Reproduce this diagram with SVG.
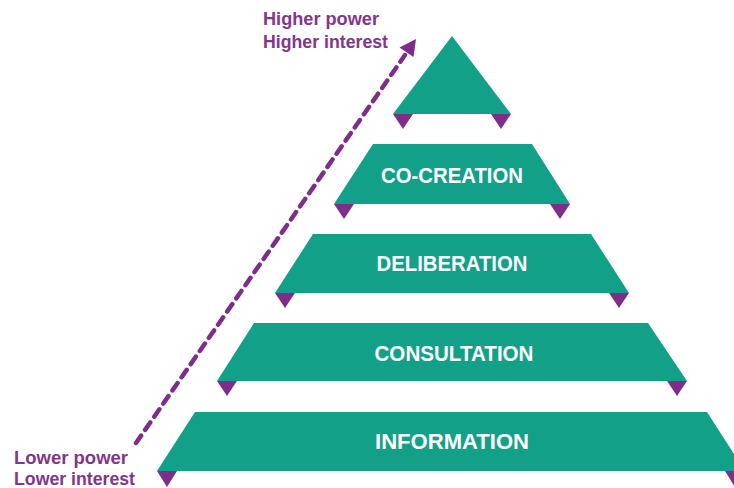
<svg xmlns="http://www.w3.org/2000/svg" width="734" height="488" viewBox="0 0 734 488">
  <style>
    .tier { fill: #12a088; }
    .fold { fill: #7e2d8b; }
    .label { font-family: "Liberation Sans", Arial, sans-serif; font-weight: bold; font-size: 22px; fill: #ffffff; text-anchor: middle; }
    .axis { font-family: "Liberation Sans", Arial, sans-serif; font-weight: bold; font-size: 17.5px; fill: #84358c; }
    .arrow { fill: none; stroke: #7e2d8b; stroke-width: 4.5; stroke-dasharray: 9 7; stroke-linecap: round; }
  </style>

  <rect width="734" height="488" fill="#ffffff"/>

  <!-- Participation pyramid, top to bottom -->
  <g id="apex">
    <polygon class="tier" points="452,36 511,114 393,114"/>
    <polygon class="fold" points="393,114 413,114 403,129"/>
    <polygon class="fold" points="491,114 511,114 501,129"/>
  </g>

  <g id="co-creation">
    <polygon class="tier" points="373,144 532,144 570,204 334,204"/>
    <polygon class="fold" points="334,204 354,204 344,219"/>
    <polygon class="fold" points="550,204 570,204 560,219"/>
    <text class="label" x="452" y="183" textLength="142" lengthAdjust="spacingAndGlyphs">CO-CREATION</text>
  </g>

  <g id="deliberation">
    <polygon class="tier" points="313,234 591,234 629,293 275,293"/>
    <polygon class="fold" points="275,293 295,293 285,308"/>
    <polygon class="fold" points="609,293 629,293 619,308"/>
    <text class="label" x="452" y="271" textLength="151" lengthAdjust="spacingAndGlyphs">DELIBERATION</text>
  </g>

  <g id="consultation">
    <polygon class="tier" points="254,323 648,323 687,381 217,381"/>
    <polygon class="fold" points="217,381 237,381 227,396"/>
    <polygon class="fold" points="667,381 687,381 677,396"/>
    <text class="label" x="454" y="361" textLength="159" lengthAdjust="spacingAndGlyphs">CONSULTATION</text>
  </g>

  <g id="information">
    <polygon class="tier" points="195,412 707,412 745,471 157,471"/>
    <polygon class="fold" points="157,471 177,471 167,487"/>
    <polygon class="fold" points="725,471 745,471 735,487"/>
    <text class="label" x="452" y="449" textLength="154" lengthAdjust="spacingAndGlyphs">INFORMATION</text>
  </g>

  <!-- Power / interest axis -->
  <g id="connectors">
    <line class="arrow" x1="136" y1="443" x2="405" y2="55"/>
    <polygon class="fold" points="416,39 413.5,57 399.5,47.5"/>
  </g>

  <g id="axis-labels">
    <text class="axis" x="263" y="25" textLength="116" lengthAdjust="spacingAndGlyphs">Higher power</text>
    <text class="axis" x="263" y="48" textLength="125" lengthAdjust="spacingAndGlyphs">Higher interest</text>
    <text class="axis" x="14" y="464" textLength="114" lengthAdjust="spacingAndGlyphs">Lower power</text>
    <text class="axis" x="14" y="485" textLength="121" lengthAdjust="spacingAndGlyphs">Lower interest</text>
  </g>
</svg>
